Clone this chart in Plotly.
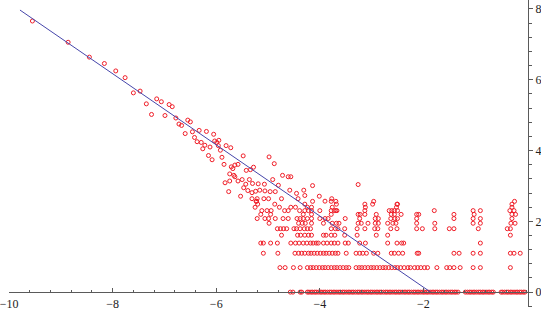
import plotly.graph_objects as go

# ---- continuous cloud (upper-left part) ----
cloud_x = [-9.55, -8.86, -8.45, -8.16, -7.94, -7.76, -7.60, -7.47, -7.35, -7.15, -7.06, -6.91,
           -6.85, -7.25, -6.99, -6.78, -6.72,
           -6.67, -6.55, -6.50, -6.60, -6.46, -6.33, -6.19, -6.42, -6.37, -6.29, -6.22, -6.26,
           -6.12, -6.05, -6.03, -5.99, -5.95, -5.96, -5.92, -5.81, -5.72, -6.15, -6.08, -5.89,
           -5.85, -5.71, -5.64, -5.58, -5.48, -5.68,
           -4.98, -4.88, -5.42, -5.34, -5.28, -5.64, -5.74, -5.50, -5.36, -4.91, -4.72, -4.61, -4.56,
           -5.66, -5.83, -5.74, -5.58, -5.43, -5.47, -5.30, -5.19, -5.07, -5.76, -5.39, -5.31,
           -5.24, -5.16, -5.06, -4.96, -4.86, -4.99, -5.53, -5.31, -5.21, -5.08, -4.74, -4.80,
           -4.31, -4.58, -4.45, -5.22,
           -4.14, -4.29, -4.01, -3.90, -3.77, -4.42, -3.26]
cloud_y = [7.66, 7.06, 6.64, 6.46, 6.25, 6.06, 5.63, 5.68, 5.32, 5.46, 5.38, 5.30,
           5.24, 5.02, 4.99, 4.92, 4.75,
           4.71, 4.86, 4.81, 4.48, 4.53, 4.57, 4.54, 4.37, 4.25, 4.23, 4.15, 4.05,
           4.10, 4.46, 4.27, 4.23, 4.29, 4.14, 4.01, 4.14, 4.08, 3.86, 3.74, 3.81,
           3.61, 3.54, 3.59, 3.61, 3.85, 3.49,
           3.82, 3.63, 3.44, 3.46, 3.53, 3.26, 3.34, 3.18, 3.18, 3.18, 3.30, 3.26, 3.26,
           3.30, 3.09, 3.14, 3.14, 3.05, 2.95, 3.07, 3.06, 3.05, 2.84, 2.87, 2.81,
           2.85, 2.88, 2.86, 2.84, 2.84, 2.64, 2.71, 2.64, 2.64, 2.64, 2.64, 3.02,
           2.88, 2.88, 2.79, 2.57,
           3.01, 2.73, 2.71, 2.57, 2.64, 2.64, 3.04]

# ---- discrete rows (y = log of small counts) ----
x_at_0 = [-4.57, -4.52, -4.38, -4.35, -4.24, -4.21, -4.17, -4.14, -4.10, -4.07, -4.03, -3.99,
          -3.96, -3.92, -3.89, -3.85, -3.81, -3.78, -3.74, -3.71, -3.67, -3.63, -3.60, -3.56,
          -3.53, -3.49, -3.45, -3.42, -3.38, -3.35, -3.31, -3.27, -3.24, -3.20, -3.17, -3.13,
          -3.09, -3.06, -3.02, -2.99, -2.95, -2.91, -2.88, -2.84, -2.81, -2.77, -2.73, -2.70,
          -2.66, -2.63, -2.59, -2.55, -2.52, -2.48, -2.45, -2.41, -2.37, -2.34, -2.30, -2.27,
          -2.23, -2.19, -2.16, -2.12, -2.09, -2.05, -2.01, -1.98, -1.94, -1.91, -1.87, -1.83,
          -1.80, -1.76, -1.73, -1.69, -1.65, -1.62, -1.58, -1.55, -1.51, -1.47, -1.44, -1.40,
          -1.37, -1.33, -1.19, -1.15, -1.11, -1.08, -1.04, -1.01, -0.97, -0.93, -0.90,
          -0.86, -0.83, -0.79, -0.75, -0.72, -0.68, -0.65, -0.50, -0.47, -0.43, -0.39,
          -0.36, -0.32, -0.29, -0.25, -0.21, -0.18, -0.14, -0.11, -0.07, -0.04]
x_at_ln2 = [-4.77, -4.67, -4.51, -4.38, -4.24, -4.18, -4.13, -4.07, -4.01, -3.95, -3.90, -3.84,
            -3.78, -3.72, -3.67, -3.61, -3.55, -3.49, -3.44, -3.30, -3.24, -3.19, -3.13, -3.07,
            -3.01, -2.96, -2.90, -2.84, -2.78, -2.73, -2.67, -2.61, -2.55, -2.50, -2.44, -2.37,
            -2.30, -2.25, -2.17, -2.11, -2.05, -1.98, -1.92, -1.74, -1.55, -1.49, -1.41, -1.29,
            -1.04, -0.90, -0.32]
x_at_ln3 = [-5.09, -4.81, -4.48, -4.41, -4.35, -4.29, -4.22, -4.17, -4.11, -4.05, -3.99, -3.93,
            -3.88, -3.82, -3.76, -3.70, -3.65, -3.49, -3.30, -3.23, -3.17, -3.10, -2.96, -2.88,
            -2.62, -2.56, -2.48, -2.40, -2.12, -2.09, -1.41, -1.31, -1.04, -0.90, -0.32, -0.25,
            -0.13]
x_at_ln4 = [-5.14, -5.09, -4.95, -4.82, -4.56, -4.47, -4.40, -4.32, -4.25, -4.18, -4.13, -4.07,
            -4.03, -3.93, -3.86, -3.78, -3.72, -3.65, -3.51, -3.45, -3.23, -3.12, -2.69, -2.51,
            -2.42, -2.38, -0.90]
x_at_ln5 = [-4.74, -4.43, -4.37, -4.29, -4.22, -4.16, -3.93, -3.88, -3.78, -3.71, -3.52, -3.28,
            -2.91, -2.69, -0.32]
x_at_ln6 = [-4.82, -4.76, -4.70, -4.64, -4.50, -4.45, -4.38, -4.30, -4.24, -4.18, -3.78, -3.70,
            -3.65, -3.52, -3.28, -3.13, -2.94, -2.88, -2.63, -2.51, -2.13, -2.02, -1.78, -1.50,
            -1.41, -0.94, -0.38, -0.32]
x_at_ln7 = [-4.98, -4.41, -4.34, -4.28, -4.16, -3.93, -3.76, -3.68, -3.63, -3.26, -3.20, -3.07,
            -2.93, -2.87, -2.69, -2.59, -2.53, -2.13, -1.78, -1.04, -0.90, -0.31, -0.23]
x_at_ln8 = [-5.21, -5.06, -4.99, -4.86, -4.71, -4.61, -4.44, -4.38, -4.32, -4.24, -4.16, -4.00,
            -3.90, -3.84, -3.51, -3.23, -2.93, -2.87, -2.63, -2.55, -2.50, -2.13, -1.41, -1.04,
            -0.90, -0.29]
x_at_ln9 = [-5.14, -4.95, -4.32, -4.16, -3.78, -3.26, -3.22, -3.13, -2.91, -2.62, -2.56, -2.43,
            -2.13, -2.09, -1.41, -1.02, -0.29, -0.22]
x_at_ln10 = [-5.12, -5.02, -4.94, -4.68, -4.61, -4.39, -4.29, -4.22, -4.16, -4.00, -3.78, -3.72,
             -3.69, -3.67, -3.13, -2.66, -2.61, -2.56, -2.50, -1.79, -1.04, -0.90, -0.33, -0.25]
x_at_ln11 = [-5.25, -4.78, -4.56, -4.47, -4.24, -4.16, -3.76, -3.12, -2.52, -0.29]
x_at_ln12 = [-5.20, -4.87, -4.29, -3.68, -3.13, -2.98, -2.51, -2.50, -0.29]
x_at_ln13 = [-5.23, -4.14, -3.78, -3.69, -2.96, -0.24]

row_levels = [0.0, 0.693, 1.099, 1.386, 1.609, 1.792, 1.946, 2.079, 2.197, 2.303, 2.398, 2.485, 2.565]
row_xs = [x_at_0, x_at_ln2, x_at_ln3, x_at_ln4, x_at_ln5, x_at_ln6, x_at_ln7, x_at_ln8,
          x_at_ln9, x_at_ln10, x_at_ln11, x_at_ln12, x_at_ln13]

# ---- fitted line ----
line_x = [-9.79, -1.86]
line_y = [7.97, 0.0]

pts_x = list(cloud_x)
pts_y = list(cloud_y)
for lvl, xs in zip(row_levels, row_xs):
    pts_x += xs
    pts_y += [lvl] * len(xs)

y_min, y_max = -0.42, 8.254
axis_col = "#5a5a5a"
font = dict(family="Liberation Serif, Times New Roman, serif", size=12, color="#222")

fig = go.Figure()
fig.add_trace(go.Scatter(
    x=pts_x, y=pts_y, mode="markers",
    marker=dict(symbol="circle-open", size=4, color="rgb(240,30,40)", line=dict(width=1)),
    hoverinfo="skip", cliponaxis=False))
fig.add_trace(go.Scatter(
    x=line_x, y=line_y, mode="lines",
    line=dict(color="rgb(70,70,170)", width=1), hoverinfo="skip"))

fig.update_layout(
    width=541, height=311, autosize=False,
    margin=dict(l=9, r=10, t=0, b=3),
    plot_bgcolor="white", paper_bgcolor="white",
    showlegend=False,
    xaxis=dict(range=[-10.002, 0.02], showgrid=False, zeroline=False,
               showline=True, linecolor=axis_col, linewidth=1,
               anchor="free", position=(0 - y_min) / (y_max - y_min),
               tickmode="array", tickvals=[-10, -8, -6, -4, -2],
               ticks="inside", ticklen=4, tickcolor=axis_col, tickwidth=1,
               minor=dict(tick0=0, dtick=0.4, ticks="inside", ticklen=2,
                          tickcolor=axis_col, showgrid=False),
               ticklabeloverflow="allow",
               tickfont=font),
    yaxis=dict(range=[y_min, y_max], side="right", showgrid=False, zeroline=False,
               showline=True, linecolor=axis_col, linewidth=1,
               tickmode="linear", tick0=0, dtick=2,
               ticks="outside", ticklen=4, tickcolor=axis_col, tickwidth=1,
               minor=dict(tick0=0, dtick=0.4, ticks="outside", ticklen=3,
                          tickcolor=axis_col, showgrid=False),
               ticklabelstandoff=0, ticklabeloverflow="allow",
               tickfont=font),
)

fig.write_html("out.html", config={"displayModeBar": False},
               post_script="document.body.style.margin='0';document.body.style.padding='0';")
